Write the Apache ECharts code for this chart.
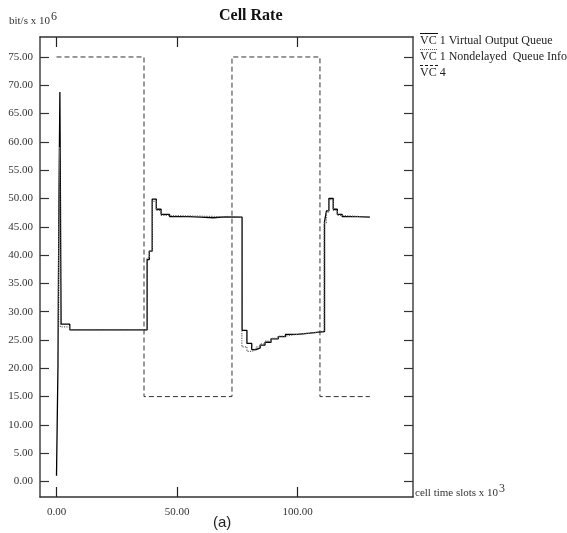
<!DOCTYPE html>
<html><head><meta charset="utf-8">
<script src="https://cdn.jsdelivr.net/npm/echarts@6/dist/echarts.min.js"></script>
<style>html,body{margin:0;padding:0;background:#fff}#c{width:567px;height:533px}</style>
</head><body><div id="c"></div>
<script>
// ---- data (x in cell time slots x 10^3, y in bit/s x 10^6) ----
const seriesNames = ['VC 1 Virtual Output Queue', 'VC 1 Nondelayed  Queue Info', 'VC 4'];
const vc1VoqData = [
  [0.0, 1.0], [0.3, 10.7], [0.6, 20.3], [1.0, 49.0], [1.4, 68.8], [1.9, 27.8], [5.5, 26.8],
  [37.6, 39.2], [38.5, 40.7], [39.7, 49.9], [41.4, 48.1], [43.4, 47.2], [46.9, 46.8],
  [55, 46.7], [60, 46.6], [65, 46.75], [70, 46.7],
  [77.0, 26.7], [79.0, 24.4], [81.0, 23.3], [82.8, 23.6], [84.5, 24.1], [86.5, 24.6],
  [89, 25.2], [92, 25.6], [95, 26.0], [100, 26.2], [105, 26.4], [109, 26.5],
  [111.2, 45.9], [112.0, 47.8], [113.0, 50.0], [114.8, 48.1], [116.5, 47.2], [118.5, 46.8],
  [125, 46.7], [130.0, 46.7]
];
const vc1NdqData = [
  [0.6, 20.3], [1.0, 49.2], [1.3, 59.1], [1.6, 27.3], [5.5, 26.8],
  [37.5, 39.5], [38.5, 40.7], [39.7, 49.5], [41.4, 47.9], [43.4, 47.0], [46.9, 46.7],
  [76.9, 23.8], [79.0, 23.0], [81.0, 23.3], [82.8, 23.8], [84.5, 24.3], [86.5, 24.8],
  [89, 25.3], [92, 25.7], [95, 26.0], [100, 26.2], [105, 26.4], [109, 26.5],
  [111.0, 45.7], [112.0, 47.6], [113.0, 49.8], [114.8, 47.9], [116.5, 47.0], [118.5, 46.7],
  [130.0, 46.7]
];
const vc4Data = [[0, 75], [36.3, 15], [72.8, 75], [109.3, 15], [130.0, 15]];
const xTickValues = [0, 50, 100];
const yTickValues = [0, 5, 10, 15, 20, 25, 30, 35, 40, 45, 50, 55, 60, 65, 70, 75];

const FONT = 'Liberation Serif';
const X_MIN = -6.85, X_MAX = 147.9, Y_MIN = -2.74, Y_MAX = 78.53;

function xAxisDef(pos, showLabel) {
  return {
    type: 'value', min: X_MIN, max: X_MAX, position: pos,
    axisLine: {show: true, onZero: false, lineStyle: {color: '#333', width: 1.5}},
    axisTick: {show: true, inside: true, length: 10, customValues: xTickValues, lineStyle: {color: '#222', width: 1.2}},
    axisLabel: {show: showLabel, customValues: xTickValues, formatter: v => v.toFixed(2), margin: 10,
      fontFamily: FONT, fontSize: 11, color: '#333'},
    splitLine: {show: false}
  };
}
function yAxisDef(pos, showLabel) {
  return {
    type: 'value', min: Y_MIN, max: Y_MAX, position: pos,
    axisLine: {show: true, onZero: false, lineStyle: {color: '#444', width: 1.5}},
    axisTick: {show: true, inside: true, length: 9, customValues: yTickValues, lineStyle: {color: '#333', width: 1.2}},
    axisLabel: {show: showLabel, customValues: yTickValues, formatter: v => v.toFixed(2), margin: 7,
      fontFamily: FONT, fontSize: 11, color: '#333'},
    splitLine: {show: false}
  };
}

const lineStyles = [
  {color: '#000', width: 1.3, type: 'solid'},
  {color: '#666', width: 1.2, type: 'dotted'},
  {color: '#333', width: 1, type: [5, 3]}
];
const legendDash = [null, [1, 1], [3, 2]];
const seriesData = [vc1VoqData, vc1NdqData, vc4Data];
const drawOrder = [2, 0, 1];

const legendGraphics = [];
seriesNames.forEach((name, i) => {
  const top = 35 + i * 16;
  legendGraphics.push({type: 'text', x: 420, y: top,
    style: {text: name, font: '12px "' + FONT + '"', fill: '#222'}});
  legendGraphics.push({type: 'line', shape: {x1: 420, y1: top - 1.5, x2: 438, y2: top - 1.5},
    style: {stroke: i === 1 ? '#555' : '#111', lineWidth: 1, lineDash: legendDash[i]}});
});

const chart = echarts.init(document.getElementById('c'), null, {renderer: 'canvas'});

// measure base text widths for superscript placement
const ctx = document.createElement('canvas').getContext('2d');
ctx.font = '11px "' + FONT + '"';
const w1 = ctx.measureText('bit/s x 10').width;
const w2 = ctx.measureText('cell time slots x 10').width;

chart.setOption({
  animation: false,
  backgroundColor: '#fff',
  grid: {left: 40, top: 37, width: 373, height: 460, containLabel: false},
  xAxis: [xAxisDef('bottom', true), xAxisDef('top', false)],
  yAxis: [yAxisDef('left', true), yAxisDef('right', false)],
  series: drawOrder.map((i, k) => ({
    name: seriesNames[i], type: 'line', step: 'end', showSymbol: false, symbol: 'none',
    xAxisIndex: 0, yAxisIndex: 0, data: seriesData[i], lineStyle: lineStyles[i], z: 2 + k
  })),
  graphic: [
    {type: 'text', x: 219, y: 8, style: {text: 'Cell Rate', font: 'bold 16px "' + FONT + '"', fill: '#111'}},
    {type: 'text', x: 9, y: 16, style: {text: 'bit/s x 10', font: '11px "' + FONT + '"', fill: '#333'}},
    {type: 'text', x: 9 + w1 + 1, y: 11, style: {text: '6', font: '12px "' + FONT + '"', fill: '#333'}},
    {type: 'text', x: 415, y: 488, style: {text: 'cell time slots x 10', font: '11px "' + FONT + '"', fill: '#333'}},
    {type: 'text', x: 415 + w2 + 1, y: 483, style: {text: '3', font: '12px "' + FONT + '"', fill: '#333'}},
    {type: 'text', x: 213, y: 515, style: {text: '(a)', font: '15px "Liberation Sans"', fill: '#222'}},
    ...legendGraphics
  ]
});
</script></body></html>
